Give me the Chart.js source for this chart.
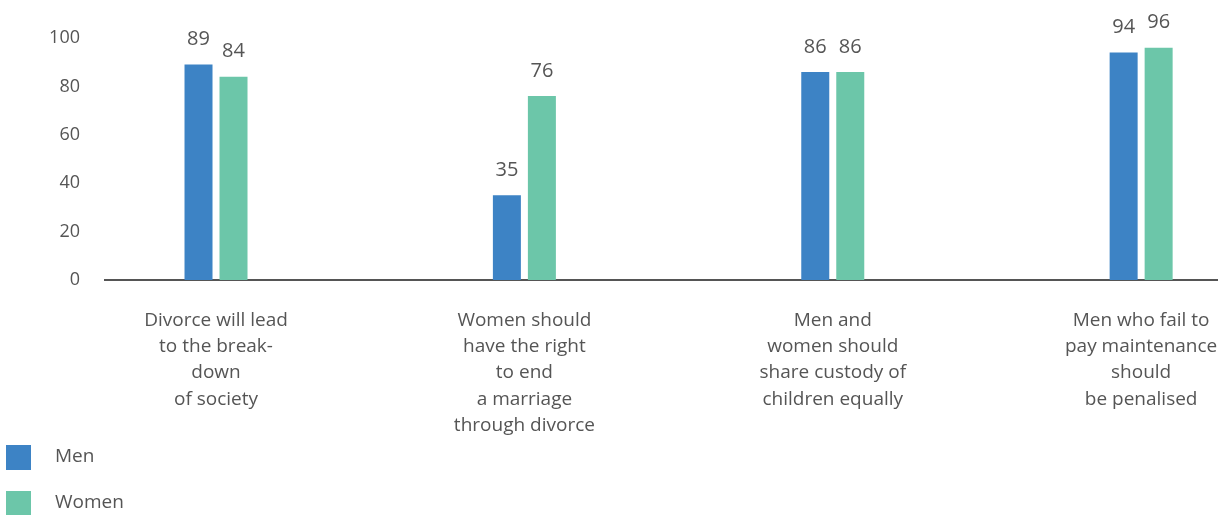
<!DOCTYPE html>
<html>
<head>
<meta charset="utf-8">
<script src="https://cdn.jsdelivr.net/npm/chart.js@4.4.0/dist/chart.umd.min.js"></script>
<style>
  html, body { margin: 0; padding: 0; background: #fff; }
  #wrap { position: relative; width: 1228px; height: 515px; }
  #legend { position: absolute; left: 6px; top: 445px; font-family: "Open Sans", sans-serif; font-size: 19px; color: #555; }
  .item { position: absolute; left: 0; height: 25px; white-space: nowrap; }
  .swatch { position: absolute; left: 0; top: 0; width: 25px; height: 25px; }
  .label { position: absolute; left: 49px; top: -2px; line-height: 25px; }
</style>
</head>
<body>
<div id="wrap">
  <canvas id="chart" width="1228" height="515"></canvas>
  <div id="legend"></div>
</div>
<script>
// Survey statements (x-axis labels, one array entry per line)
const categories = [
    ['Divorce will lead', 'to the break-', 'down', 'of society'],
    ['Women should', 'have the right', 'to end', 'a marriage', 'through divorce'],
    ['Men and', 'women should', 'share custody of', 'children equally'],
    ['Men who fail to', 'pay maintenance', 'should', 'be penalised']
];
const seriesNames = ['Men', 'Women'];
const menValues = [89, 35, 86, 94];
const womenValues = [84, 76, 86, 96];
const yTicks = [0, 20, 40, 60, 80, 100];

const colors = ['#3d83c5', '#6cc6a9'];
const textColor = '#555555';
const fontFamily = '"Open Sans", sans-serif';

// value labels above every bar
const valueLabels = {
    id: 'valueLabels',
    afterDatasetsDraw(chart) {
        const ctx = chart.ctx;
        ctx.save();
        ctx.font = '20px ' + fontFamily;
        ctx.fillStyle = textColor;
        ctx.textAlign = 'center';
        ctx.textBaseline = 'bottom';
        chart.data.datasets.forEach((ds, i) => {
            chart.getDatasetMeta(i).data.forEach((bar, j) => {
                ctx.fillText(ds.data[j].y, bar.x, bar.y - 15);
            });
        });
        ctx.restore();
    }
};

const toPoints = values => values.map((v, i) => ({ x: i, y: v }));

new Chart(document.getElementById('chart'), {
    type: 'bar',
    data: {
        datasets: [
            { label: seriesNames[0], data: toPoints(menValues), backgroundColor: colors[0] },
            { label: seriesNames[1], data: toPoints(womenValues), backgroundColor: colors[1] }
        ]
    },
    options: {
        responsive: false,
        animation: false,
        categoryPercentage: 0.227,
        barPercentage: 0.8,
        layout: { padding: { top: 38, right: 11 } },
        plugins: {
            legend: { display: false },
            tooltip: { enabled: false }
        },
        scales: {
            x: {
                type: 'linear',
                offset: false,
                min: -0.36,
                max: 3.246,
                grid: { display: false, drawTicks: false, offset: false },
                border: { display: true, color: '#555555', width: 2 },
                afterBuildTicks: scale => { scale.ticks = categories.map((c, i) => ({ value: i })); },
                afterFit: scale => {
                    scale.height = 515 - 280;
                    scale.paddingLeft = 0;
                    scale.paddingRight = 0;
                },
                ticks: {
                    autoSkip: false,
                    maxRotation: 0,
                    padding: 27,
                    color: textColor,
                    font: { family: fontFamily, size: 19, lineHeight: 1.39 },
                    callback: value => categories[value] || ''
                }
            },
            y: {
                min: 0,
                max: 100,
                grid: { display: false, drawTicks: false },
                border: { display: false },
                afterBuildTicks: scale => { scale.ticks = yTicks.map(v => ({ value: v })); },
                afterFit: scale => { scale.width = 105; },
                ticks: {
                    padding: 25,
                    color: textColor,
                    font: { family: fontFamily, size: 18 }
                }
            }
        }
    },
    plugins: [valueLabels]
});

// legend below the chart, one row per series
const legend = document.getElementById('legend');
seriesNames.forEach((name, i) => {
    const item = document.createElement('div');
    item.className = 'item';
    item.style.top = (i * 46) + 'px';
    item.innerHTML = '<span class="swatch" style="background:' + colors[i] + '"></span><span class="label">' + name + '</span>';
    legend.appendChild(item);
});
</script>
</body>
</html>
